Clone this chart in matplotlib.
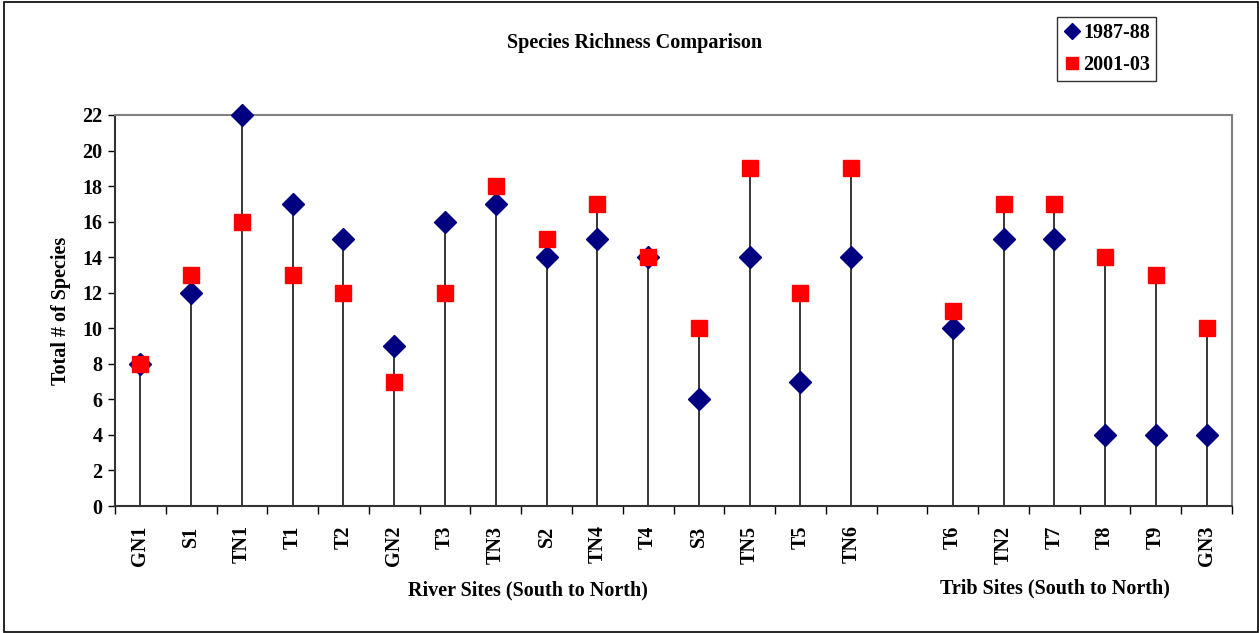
import numpy as np
import matplotlib
matplotlib.use('Agg')
import matplotlib.pyplot as plt
from matplotlib.patches import Rectangle

plt.rcParams['font.family'] = ['Liberation Serif', 'DejaVu Serif']
plt.rcParams['font.weight'] = 'bold'

# Sites, blank slot separates river and trib sites
sites = ['GN1', 'S1', 'TN1', 'T1', 'T2', 'GN2', 'T3', 'TN3', 'S2', 'TN4', 'T4',
         'S3', 'TN5', 'T5', 'TN6', '', 'T6', 'TN2', 'T7', 'T8', 'T9', 'GN3']
rich_1987 = [8, 12, 22, 17, 15, 9, 16, 17, 14, 15, 14,
             6, 14, 7, 14, np.nan, 10, 15, 15, 4, 4, 4]
rich_2001 = [8, 13, 16, 13, 12, 7, 12, 18, 15, 17, 14,
             10, 19, 12, 19, np.nan, 11, 17, 17, 14, 13, 10]

FS = 14.5
W, H = 1259, 633
fig = plt.figure(figsize=(W / 100, H / 100), dpi=100)
ax = fig.add_axes([115 / W, 1 - 506 / H, (1232 - 115) / W, (506 - 115) / H])

x = np.arange(len(sites))
a = np.array(rich_1987, dtype=float)
b = np.array(rich_2001, dtype=float)
top = np.fmax(a, b)
valid = ~np.isnan(top)

ax.vlines(x[valid], 0, top[valid], color='black', linewidth=1.1, zorder=1)
ax.plot(x, a, linestyle='None', marker='D', markersize=11.5,
        color='#000080', label='1987-88', zorder=3, clip_on=False)
ax.plot(x, b, linestyle='None', marker='s', markersize=12,
        color='#ff0000', label='2001-03', zorder=4, clip_on=False)

ax.set_xlim(-0.5, len(sites) - 0.5)
ax.set_ylim(0, 22)
ax.set_yticks(range(0, 23, 2))
ax.tick_params(axis='y', labelsize=FS, length=5, width=1, direction='out', pad=4)
ax.set_xticks(x)
ax.set_xticklabels(sites, rotation=90, fontsize=FS)
ax.tick_params(axis='x', length=0, pad=14)
ax.set_xticks(np.arange(-0.5, len(sites)), minor=True)
ax.tick_params(axis='x', which='minor', length=6, width=1, direction='out')

for s in ['top', 'right']:
    ax.spines[s].set_color('#808080')
    ax.spines[s].set_linewidth(1.5)
for s in ['left', 'bottom']:
    ax.spines[s].set_color('#333333')
    ax.spines[s].set_linewidth(1.5)

ax.set_ylabel('Total # of Species', fontsize=FS, fontweight='bold', labelpad=8)

fig.text(635 / W, 1 - 43 / H, 'Species Richness Comparison', ha='center', va='center',
         fontsize=FS, fontweight='bold')
fig.text(528 / W, 1 - 590 / H, 'River Sites (South to North)', ha='center', va='center',
         fontsize=FS, fontweight='bold')
fig.text(1055 / W, 1 - 588 / H, 'Trib Sites (South to North)', ha='center', va='center',
         fontsize=FS, fontweight='bold')

leg = fig.legend(loc='upper left', bbox_to_anchor=(1057 / W, 1 - 17 / H), borderaxespad=0,
                 fontsize=FS, frameon=True, fancybox=False, handletextpad=0.1,
                 handlelength=0.9, borderpad=0.3, labelspacing=0.6, markerscale=0.75)
leg.get_frame().set_edgecolor('black')
leg.get_frame().set_linewidth(1)

fig.patches.append(Rectangle((4 / W, 0.002), 1 - 5 / W, 0.995, transform=fig.transFigure,
                             fill=False, edgecolor='black', linewidth=1.2))

fig.savefig('out.png', dpi=100)
